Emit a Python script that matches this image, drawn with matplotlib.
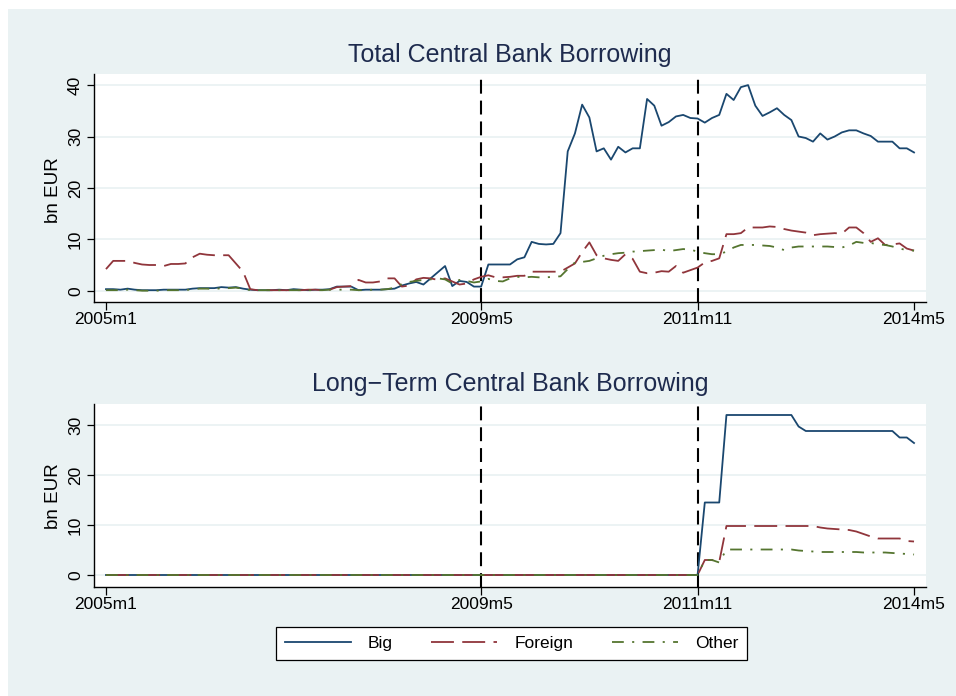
import matplotlib
matplotlib.use("Agg")
import matplotlib.pyplot as plt
from matplotlib.patches import Rectangle
import numpy as np

plt.rcParams['font.family'] = ['Liberation Sans', 'DejaVu Sans']
plt.rcParams['lines.scale_dashes'] = False
plt.rcParams['axes.unicode_minus'] = True

# ---------------- data (monthly, 2005m1 .. 2014m5) ----------------
tick_pos = [0, 52, 82, 112]
tick_labels = ['2005m1', '2009m5', '2011m11', '2014m5']
event_months = [52, 82]
series_names = ['Big', 'Foreign', 'Other']

big_total = [
    0.3, 0.3, 0.2, 0.4, 0.2, 0.1, 0.1, 0.1, 0.2, 0.2,
    0.2, 0.2, 0.4, 0.5, 0.5, 0.5, 0.7, 0.6, 0.7, 0.4,
    0.2, 0.1, 0.1, 0.1, 0.2, 0.1, 0.3, 0.2, 0.1, 0.2,
    0.2, 0.3, 0.8, 0.8, 0.8, 0.1, 0.2, 0.2, 0.2, 0.3,
    0.4, 1.0, 1.4, 1.7, 1.2, 2.4, 3.6, 4.8, 0.9, 1.9,
    1.7, 0.8, 0.8, 5.1, 5.1, 5.1, 5.1, 6.1, 6.5, 9.5,
    9.1, 9.0, 9.1, 11.2, 27.1, 30.6, 36.2, 33.7, 27.1, 27.7,
    25.5, 28.0, 26.9, 27.7, 27.7, 37.3, 36.0, 32.1, 32.8, 33.9,
    34.2, 33.6, 33.5, 32.7, 33.6, 34.2, 38.3, 37.1, 39.6, 40.0,
    36.0, 34.0, 34.7, 35.5, 34.2, 33.2, 30.0, 29.7, 29.0, 30.6,
    29.4, 30.0, 30.8, 31.2, 31.2, 30.6, 30.1, 29.0, 29.0, 29.0,
    27.7, 27.7, 26.9,
]
foreign_total = [
    4.2, 5.8, 5.8, 5.8, 5.4, 5.1, 5.0, 5.0, 4.8, 5.2,
    5.2, 5.3, 6.5, 7.2, 7.0, 6.9, 6.9, 6.9, 5.3, 3.7,
    0.3, 0.1, 0.1, 0.1, 0.1, 0.1, 0.1, 0.1, 0.2, 0.2,
    0.1, 0.2, 0.7, 0.8, 0.9, 2.1, 1.6, 1.6, 1.8, 2.4,
    2.4, 0.8, 1.0, 2.2, 2.5, 2.4, 2.1, 2.4, 1.8, 1.2,
    1.4, 2.2, 2.7, 3.0, 2.6, 2.6, 2.7, 2.9, 2.9, 3.7,
    3.7, 3.7, 3.7, 3.7, 4.5, 5.3, 7.5, 9.4, 6.9, 6.3,
    6.0, 5.8, 7.1, 6.2, 3.7, 3.4, 3.5, 3.8, 3.7, 4.8,
    3.5, 4.0, 4.5, 5.5, 5.8, 6.3, 11.0, 11.0, 11.2, 12.3,
    12.3, 12.3, 12.5, 12.4, 12.0, 11.7, 11.5, 11.3, 10.8, 11.0,
    11.1, 11.2, 11.1, 12.3, 12.3, 11.2, 9.5, 10.2, 8.9, 9.0,
    9.2, 8.2, 7.8,
]
other_total = [
    0.1, 0.1, 0.1, 0.2, 0.1, 0.0, 0.0, 0.0, 0.1, 0.1,
    0.1, 0.1, 0.3, 0.4, 0.4, 0.3, 0.5, 0.5, 0.6, 0.4,
    0.1, 0.1, 0.1, 0.1, 0.1, 0.1, 0.1, 0.1, 0.1, 0.1,
    0.1, 0.2, 0.2, 0.2, 0.2, 0.1, 0.1, 0.2, 0.2, 0.3,
    0.6, 1.3, 1.7, 1.9, 2.1, 2.2, 2.4, 2.2, 1.4, 2.1,
    1.9, 1.6, 1.8, 2.3, 1.9, 1.8, 2.4, 2.7, 2.6, 2.7,
    2.6, 2.6, 2.7, 2.8, 4.2, 5.5, 5.6, 5.8, 6.3, 6.8,
    7.1, 7.3, 7.4, 7.6, 7.7, 7.8, 7.9, 8.0, 7.7, 7.9,
    8.1, 8.0, 7.6, 7.3, 7.1, 7.1, 7.6, 8.4, 8.9, 8.9,
    8.9, 8.8, 8.7, 8.4, 7.9, 8.4, 8.6, 8.6, 8.6, 8.6,
    8.6, 8.5, 8.4, 8.8, 9.5, 9.3, 9.3, 9.0, 8.9, 8.6,
    8.2, 7.9, 7.8,
]
big_longterm = [
    0, 0, 0, 0, 0, 0, 0, 0, 0, 0,
    0, 0, 0, 0, 0, 0, 0, 0, 0, 0,
    0, 0, 0, 0, 0, 0, 0, 0, 0, 0,
    0, 0, 0, 0, 0, 0, 0, 0, 0, 0,
    0, 0, 0, 0, 0, 0, 0, 0, 0, 0,
    0, 0, 0, 0, 0, 0, 0, 0, 0, 0,
    0, 0, 0, 0, 0, 0, 0, 0, 0, 0,
    0, 0, 0, 0, 0, 0, 0, 0, 0, 0,
    0, 0, 0, 14.5, 14.5, 14.5, 32.0, 32.0, 32.0, 32.0,
    32.0, 32.0, 32.0, 32.0, 32.0, 32.0, 29.7, 28.8, 28.8, 28.8,
    28.8, 28.8, 28.8, 28.8, 28.8, 28.8, 28.8, 28.8, 28.8, 28.8,
    27.5, 27.5, 26.4,
]
foreign_longterm = [
    0, 0, 0, 0, 0, 0, 0, 0, 0, 0,
    0, 0, 0, 0, 0, 0, 0, 0, 0, 0,
    0, 0, 0, 0, 0, 0, 0, 0, 0, 0,
    0, 0, 0, 0, 0, 0, 0, 0, 0, 0,
    0, 0, 0, 0, 0, 0, 0, 0, 0, 0,
    0, 0, 0, 0, 0, 0, 0, 0, 0, 0,
    0, 0, 0, 0, 0, 0, 0, 0, 0, 0,
    0, 0, 0, 0, 0, 0, 0, 0, 0, 0,
    0, 0, 0, 3.0, 3.0, 2.6, 9.8, 9.8, 9.8, 9.8,
    9.8, 9.8, 9.8, 9.8, 9.8, 9.8, 9.8, 9.8, 9.8, 9.5,
    9.3, 9.2, 9.1, 9.0, 8.7, 8.2, 7.7, 7.3, 7.3, 7.3,
    7.3, 6.8, 6.7,
]
other_longterm = [
    0, 0, 0, 0, 0, 0, 0, 0, 0, 0,
    0, 0, 0, 0, 0, 0, 0, 0, 0, 0,
    0, 0, 0, 0, 0, 0, 0, 0, 0, 0,
    0, 0, 0, 0, 0, 0, 0, 0, 0, 0,
    0, 0, 0, 0, 0, 0, 0, 0, 0, 0,
    0, 0, 0, 0, 0, 0, 0, 0, 0, 0,
    0, 0, 0, 0, 0, 0, 0, 0, 0, 0,
    0, 0, 0, 0, 0, 0, 0, 0, 0, 0,
    0, 0, 0, 3.0, 3.0, 2.5, 5.1, 5.1, 5.1, 5.1,
    5.1, 5.1, 5.1, 5.1, 5.1, 5.1, 4.9, 4.8, 4.7, 4.6,
    4.6, 4.6, 4.6, 4.6, 4.6, 4.5, 4.5, 4.5, 4.5, 4.4,
    4.3, 4.2, 4.1,
]

# ---------------- style ----------------
W, H = 956, 696
BG = '#EAF2F3'
colors = ['#1A476F', '#90353B', '#55752F']
dashes = [None, (16.5, 6.0), (8.5, 6.0, 1.5, 6.0)]
title_color = '#1E2B4E'

fig = plt.figure(figsize=(W / 100, H / 100), dpi=100)
fig.patch.set_facecolor('white')
fig.add_artist(Rectangle((8 / W, 0), 1 - 8 / W, 1 - 9 / H, transform=fig.transFigure,
                         facecolor=BG, edgecolor='none', zorder=-10))


def px_axes(left, top, right, bottom):
    return fig.add_axes([left / W, 1 - bottom / H, (right - left) / W, (bottom - top) / H])


ax1 = px_axes(94, 74, 926, 301.7)
ax2 = px_axes(94, 404, 926, 586.7)

panels = [
    (ax1, [big_total, foreign_total, other_total], 'Total Central Bank Borrowing',
     [0, 10, 20, 30, 40], (-2.14, 42.16), 55, 190),
    (ax2, [big_longterm, foreign_longterm, other_longterm], 'Long\u2212Term Central Bank Borrowing',
     [0, 10, 20, 30], (-2.34, 34.2), 384, 496),
]

handles = []
for ax, data, title, yt, ylim, ty, ly in panels:
    ax.set_facecolor('white')
    x = np.arange(len(data[0]))
    for m in event_months:
        ax.axvline(m, color='black', lw=1.5, dashes=(10, 5), zorder=1)
    hs = []
    for vals, c, d in zip(data, colors, dashes):
        if d is None:
            h, = ax.plot(x, vals, color=c, lw=1.3, zorder=3)
        else:
            h, = ax.plot(x, vals, color=c, lw=1.3, dashes=d, zorder=3)
        hs.append(h)
    handles = hs
    ax.set_xlim(-1.66, 113.66)
    ax.set_ylim(*ylim)
    ax.set_xticks(tick_pos)
    ax.set_xticklabels(tick_labels)
    ax.set_yticks(yt)
    ax.grid(axis='y', color=BG, lw=1.3)
    ax.set_axisbelow(True)
    for s in ['top', 'right']:
        ax.spines[s].set_visible(False)
    for s in ['left', 'bottom']:
        ax.spines[s].set_color('black')
        ax.spines[s].set_linewidth(1.0)
    ax.tick_params(axis='x', length=6, width=0.9, labelsize=12.5, pad=1.5)
    ax.tick_params(axis='y', length=5, width=0.9, labelsize=12.5, pad=3, labelrotation=90)
    for lab in ax.get_yticklabels():
        lab.set_va('center')
    fig.text(510 / W, 1 - ty / H, title, ha='center', va='center', fontsize=18, color=title_color)
    fig.text(53 / W, 1 - ly / H, 'bn EUR', ha='center', va='center', rotation=90, fontsize=13.5)

leg = fig.legend(handles, series_names, loc='center', bbox_to_anchor=(511.5 / W, 1 - 643.5 / H),
                 ncol=3, frameon=True, fancybox=False, edgecolor='black', fontsize=12.5,
                 handlelength=3.8, handletextpad=1.0, columnspacing=2.2, borderpad=0.5,
                 framealpha=1)
leg.get_frame().set_linewidth(0.9)

fig.savefig('out.png', dpi=100, facecolor=fig.get_facecolor())
